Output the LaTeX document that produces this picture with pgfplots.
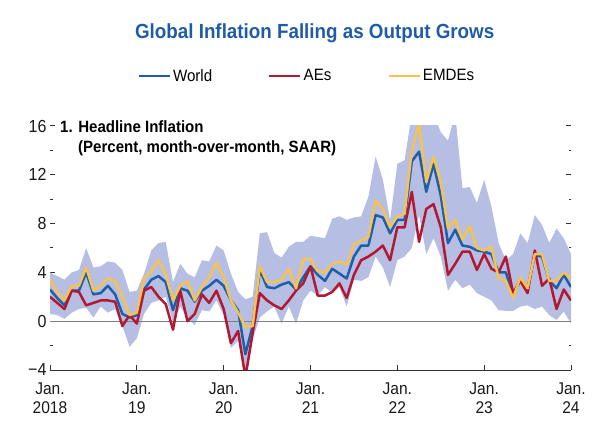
\documentclass[border=0pt]{standalone}
\usepackage{fontspec}
\setmainfont{Liberation Sans}[FakeStretch=0.92]
\usepackage{pgfplots}
\pgfplotsset{compat=1.18}
\usepackage{pgfplotstable}
\usepgfplotslibrary{fillbetween}

\definecolor{worldblue}{RGB}{31,95,170}
\definecolor{aered}{RGB}{178,24,50}
\definecolor{emdeyellow}{RGB}{246,194,80}
\definecolor{bandfill}{RGB}{182,190,228}
\definecolor{titleblue}{RGB}{32,92,166}

% Monthly headline inflation (m = months since Jan. 2018), SAAR;
% lo/hi give the shaded range across economies
\pgfplotstableread{
m world aes emdes lo hi
0 2.6 2.0 3.4 0.6 4.0
1 1.9 1.5 2.4 0.5 3.7
2 1.3 1.0 1.7 0.2 3.4
3 2.5 2.5 2.9 0.7 4.0
4 2.5 2.4 2.9 1.0 4.2
5 4.0 1.3 4.4 1.1 6.0
6 2.2 1.5 2.5 0.3 4.4
7 2.3 1.7 2.9 1.2 4.5
8 2.9 1.7 3.5 0.7 4.9
9 2.2 1.6 3.3 1.0 4.8
10 0.6 -0.4 2.0 -0.4 4.2
11 0.3 0.5 0.5 -2.1 2.4
12 0.5 -0.2 0.7 -1.4 2.5
13 2.6 2.5 3.5 0.6 3.9
14 3.4 2.8 4.1 1.5 5.8
15 3.7 2.0 5.0 1.7 6.4
16 3.2 1.4 3.8 2.0 6.5
17 0.9 -0.7 1.7 -0.1 3.2
18 2.7 2.5 2.9 1.2 4.7
19 2.5 0.0 3.3 0.2 3.9
20 1.6 0.6 1.7 -0.3 3.6
21 2.5 2.2 2.8 0.9 5.0
22 2.9 1.5 3.6 0.8 4.9
23 3.4 2.5 4.8 1.7 6.2
24 2.9 1.0 3.6 0.5 5.8
25 1.7 -1.8 1.7 -2.2 3.9
26 0.9 -0.8 0.7 -1.6 2.4
27 -2.7 -4.6 -0.5 -4.8 1.8
28 -0.4 -1.0 -0.4 -1.5 2.0
29 4.2 2.3 4.5 0.3 7.2
30 2.8 1.7 3.2 0.8 7.3
31 2.7 1.3 3.2 1.2 5.6
32 3.0 1.0 3.4 -0.2 5.2
33 3.2 1.7 4.3 1.2 6.1
34 2.6 2.5 2.7 -0.2 6.5
35 3.6 3.1 5.1 1.7 6.5
36 4.5 4.5 5.1 2.5 7.0
37 3.8 2.1 4.1 2.1 6.9
38 3.3 2.1 4.0 2.8 6.8
39 4.3 2.4 4.7 2.3 8.4
40 3.9 3.1 4.9 2.8 8.6
41 3.5 1.9 4.6 1.2 8.3
42 5.3 3.8 6.3 3.4 8.5
43 6.2 5.0 6.6 3.3 8.6
44 6.2 5.3 6.9 3.6 10.2
45 8.7 5.7 9.9 5.3 13.5
46 8.5 6.2 9.2 4.4 11.6
47 7.2 5.0 7.7 2.8 8.3
48 8.3 7.7 8.6 5.0 12.9
49 8.3 7.7 8.8 5.3 13.2
50 13.1 10.6 14.0 6.0 17.0
51 13.9 6.5 16.2 8.7 17.0
52 10.6 9.2 11.4 5.5 17.0
53 12.9 9.6 13.5 6.8 17.0
54 10.3 7.7 11.4 5.3 15.5
55 6.4 3.8 7.6 2.5 14.8
56 7.5 4.7 8.3 3.4 17.0
57 6.2 5.7 6.7 2.7 10.9
58 6.1 5.7 7.8 3.0 11.0
59 5.8 4.2 6.0 2.3 9.7
60 5.7 5.5 5.8 2.0 11.6
61 5.5 4.3 6.1 1.7 9.4
62 4.0 4.0 3.5 0.9 6.4
63 4.0 5.3 3.3 0.85 5.0
64 2.1 2.3 1.9 0.85 5.5
65 3.5 3.3 3.6 1.2 7.2
66 2.7 2.3 2.7 1.3 6.4
67 5.4 5.8 5.5 1.0 8.7
68 5.3 2.9 5.5 1.2 7.9
69 3.3 3.5 3.3 0.5 6.4
70 2.7 1.0 3.3 0.1 7.6
71 3.8 2.6 4.0 0.8 6.8
72 2.8 1.7 3.5 -0.2 5.5
}\inflation

\begin{document}
\begin{tikzpicture}
\begin{axis}[
  at={(0,0)}, anchor=south west,
  scale only axis, width=521bp, height=244bp,
  xmin=0, xmax=72, ymin=-4, ymax=16,
  clip mode=individual,
  separate axis lines,
  axis x line*=bottom,
  x axis line style={draw=black!80, line width=1bp, -},
  y axis line style={draw=none},
  xtick={0,12,24,36,48,60,72},
  xticklabels={{Jan.\\2018},{Jan.\\19},{Jan.\\20},{Jan.\\21},{Jan.\\22},{Jan.\\23},{Jan.\\24}},
  xticklabel style={align=center, font=\fontsize{17}{19}\selectfont,
    text=black!90, yshift=-9bp},
  ytick={-4,0,4,8,12,16},
  yticklabels={−4,0,4,8,12,16},
  minor ytick={-2,2,6,10,14},
  yticklabel style={font=\fontsize{17.5}{19}\selectfont, text=black!90},
  xtick pos=left, ytick pos=both, yticklabel pos=left,
  tick align=inside,
  major tick length=5bp, minor tick length=2.5bp,
  tick style={black!80, line width=1bp},
  title={Global Inflation Falling as Output Grows},
  title style={at={(0.508,1.356)}, anchor=center,
    font=\bfseries\fontsize{20.5}{24}\selectfont, text=titleblue},
  legend columns=3,
  legend style={at={(0.493,1.205)}, anchor=center, draw=none, fill=none,
    font=\fontsize{16.5}{19}\selectfont,
    /tikz/every even column/.append style={column sep=54bp}},
  legend image code/.code={\draw[#1, line width=2.5bp] (0bp,0bp) -- (31bp,0bp);},
  every axis plot/.append style={line join=round},
]
% shaded range across economies
\addplot[draw=none, name path=hi, forget plot] table[x=m, y=hi]{\inflation};
\addplot[draw=none, name path=lo, forget plot] table[x=m, y=lo]{\inflation};
\addplot[bandfill, forget plot] fill between[of=hi and lo];
% zero line
\addplot[gray, line width=0.9bp, forget plot] coordinates {(0,0) (72,0)};
% aggregates
\addplot[worldblue, line width=2.5bp] table[x=m, y=world]{\inflation};
\addlegendentry{World}
\addplot[aered, line width=2.5bp] table[x=m, y=aes]{\inflation};
\addlegendentry{AEs}
\addplot[emdeyellow, line width=2.5bp] table[x=m, y=emdes]{\inflation};
\addlegendentry{EMDEs}
% panel heading
\node[anchor=base west, inner sep=0pt, font=\bfseries\fontsize{16.4}{19}\selectfont]
  at (axis description cs:0.0192,0.975) {1. Headline Inflation};
\node[anchor=base west, inner sep=0pt, font=\bfseries\fontsize{16.4}{19}\selectfont]
  at (axis description cs:0.0537,0.893) {(Percent, month-over-month, SAAR)};
\end{axis}
\path (-50bp,-56bp) rectangle (550bp,370bp);
\end{tikzpicture}
\end{document}
